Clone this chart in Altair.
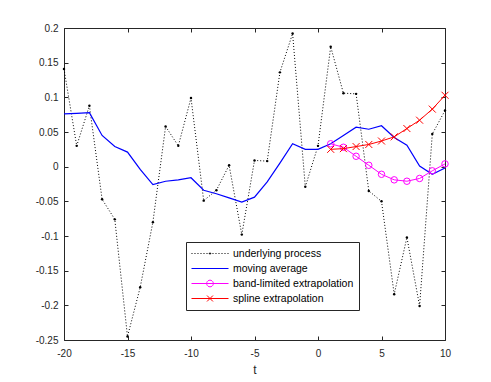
import math
import altair as alt
import pandas as pd

# ---------------- data ----------------
t_proc = list(range(-20, 11))
proc = [0.141, 0.030, 0.088, -0.047, -0.076, -0.245, -0.174, -0.080, 0.058, 0.030,
        0.099, -0.049, -0.034, 0.002, -0.098, 0.009, 0.008, 0.136, 0.192, -0.029,
        0.030, 0.173, 0.106, 0.105, -0.035, -0.050, -0.184, -0.102, -0.201, 0.047,
        0.081]
moving_avg = [0.076, 0.077, 0.078, 0.045, 0.029, 0.021, -0.004, -0.026, -0.021, -0.019,
              -0.016, -0.034, -0.039, -0.045, -0.051, -0.044, -0.022, 0.005, 0.033, 0.025,
              0.025, 0.033, 0.045, 0.057, 0.054, 0.059, 0.042, 0.031, 0.001, -0.011,
              -0.002]
t_ext = list(range(1, 11))
band_limited = [0.033, 0.028, 0.015, 0.002, -0.011, -0.019, -0.021, -0.017, -0.006, 0.004]
spline_ext = [0.025, 0.026, 0.029, 0.032, 0.037, 0.043, 0.055, 0.067, 0.083, 0.103]

series_names = ["underlying process", "moving average",
                "band-limited extrapolation", "spline extrapolation"]
series_colors = ["black", "#0000ff", "#ff00ff", "#ff0000"]
x_ticks = [-20, -15, -10, -5, 0, 5, 10]
y_ticks = [-0.25, -0.2, -0.15, -0.1, -0.05, 0, 0.05, 0.1, 0.15, 0.2]

df_proc = pd.DataFrame({"t": t_proc, "v": proc})
df_ma = pd.DataFrame({"t": t_proc, "v": moving_avg})
df_band = pd.DataFrame({"t": t_ext, "v": band_limited})
df_spline = pd.DataFrame({"t": t_ext, "v": spline_ext})
df_leg = pd.DataFrame({"series": series_names})

FONT = "Liberation Sans"
INK = "#262626"

# ---------------- legend symbol paths (unit coords, -1..1) ----------------
u = 1 / 18.5  # one pixel in unit coordinates
dotted = ""
x0 = -1.0
while x0 < 1.0:
    dotted += f"M{x0:.3f},0L{min(x0 + u, 1):.3f},0"
    x0 += 3 * u


def poly_circle(r, n=20):
    pts = [(r * math.cos(2 * math.pi * k / n), r * math.sin(2 * math.pi * k / n)) for k in range(n)]
    s = f"M{pts[0][0]:.3f},{pts[0][1]:.3f}"
    for px, py in pts[1:]:
        s += f"L{px:.3f},{py:.3f}"
    return s + "Z"


path_proc = dotted + poly_circle(0.7 * u, 8)
path_ma = "M-1,0L1,0"
path_band = "M-1,0L1,0" + poly_circle(0.18)
path_spline = "M-1,0L1,0M-0.16,-0.16L0.16,0.16M-0.16,0.16L0.16,-0.16"

# ---------------- scales & axes ----------------
xs = alt.Scale(domain=[-20, 10], nice=False, zero=False)
ys = alt.Scale(domain=[-0.25, 0.2], nice=False, zero=False)

common = dict(grid=False, domain=False, labelFont=FONT, labelColor=INK,
              titleFont=FONT, titleColor=INK)

ax_x_lab = alt.Axis(orient="bottom", values=x_ticks, labelExpr="'' + datum.value",
                    ticks=False, labelPadding=8, labelFontSize=10, labelFlush=False,
                    labelOverlap=False, title="t", titleFontSize=12,
                    titleFontWeight="normal", titlePadding=6, **common)
ax_y_lab = alt.Axis(orient="left", values=y_ticks,
                    labelExpr="'' + round(datum.value*100)/100",
                    ticks=False, labelPadding=6, labelFontSize=10, labelFlush=False,
                    labelOverlap=False, title=None, **common)


def tick_axis(orient, vals):
    return alt.Axis(orient=orient, values=vals, labels=False, ticks=True, tickSize=4,
                    tickColor=INK, tickWidth=1, offset=-4, title=None, grid=False,
                    domain=False)


# ---------------- layers ----------------
proc_line = alt.Chart(df_proc).mark_line(color="black", strokeDash=[1, 2], strokeWidth=1).encode(
    x=alt.X("t:Q", scale=xs, axis=ax_x_lab),
    y=alt.Y("v:Q", scale=ys, axis=ax_y_lab))
proc_pts = alt.Chart(df_proc).mark_point(filled=True, size=6, color="black", opacity=1).encode(
    x=alt.X("t:Q", scale=xs, axis=None), y=alt.Y("v:Q", scale=ys, axis=None))

ma_line = alt.Chart(df_ma).mark_line(color="#0000ff", strokeWidth=1.2).encode(
    x=alt.X("t:Q", scale=xs, axis=tick_axis("bottom", x_ticks)),
    y=alt.Y("v:Q", scale=ys, axis=tick_axis("left", y_ticks)))

band_line = alt.Chart(df_band).mark_line(color="#ff00ff", strokeWidth=1).encode(
    x=alt.X("t:Q", scale=xs, axis=tick_axis("top", x_ticks)),
    y=alt.Y("v:Q", scale=ys, axis=tick_axis("right", y_ticks)))
band_pts = alt.Chart(df_band).mark_point(shape="circle", size=42, filled=False,
                                         color="#ff00ff", strokeWidth=1, opacity=1).encode(
    x=alt.X("t:Q", scale=xs, axis=None), y=alt.Y("v:Q", scale=ys, axis=None))

spline_line = alt.Chart(df_spline).mark_line(color="#ff0000", strokeWidth=1).encode(
    x=alt.X("t:Q", scale=xs, axis=None), y=alt.Y("v:Q", scale=ys, axis=None))
spline_pts = alt.Chart(df_spline).mark_point(shape="M-1,-1L1,1M-1,1L1,-1", size=49,
                                             filled=False, color="#ff0000", strokeWidth=1,
                                             opacity=1).encode(
    x=alt.X("t:Q", scale=xs, axis=None), y=alt.Y("v:Q", scale=ys, axis=None))

leg = alt.Legend(orient="none", legendX=122, legendY=214, title=None,
                 strokeColor=INK, fillColor="white", padding=5,
                 symbolSize=1369, symbolStrokeWidth=1, clipHeight=13, rowPadding=2,
                 labelOffset=4, labelFont=FONT, labelFontSize=10.5, labelColor="black")

legend_layer = alt.Chart(df_leg).transform_filter("false").mark_point(
    filled=False, opacity=1, strokeWidth=1).encode(
    color=alt.Color("series:N", scale=alt.Scale(domain=series_names, range=series_colors),
                    legend=leg),
    shape=alt.Shape("series:N", scale=alt.Scale(domain=series_names,
                                                range=[path_proc, path_ma, path_band, path_spline]),
                    legend=leg))

chart = alt.layer(proc_line, proc_pts, ma_line, band_line, band_pts, spline_line,
                  spline_pts, legend_layer).resolve_axis(
    x="independent", y="independent").properties(
    width=381, height=312,
    autosize=alt.AutoSizeParams(type="none"),
    padding={"left": 56, "top": 20, "right": 30, "bottom": 40},
    background="white").configure_view(stroke=INK, strokeWidth=1)

chart.save("out.html", embed_options={"renderer": "svg", "actions": False})
